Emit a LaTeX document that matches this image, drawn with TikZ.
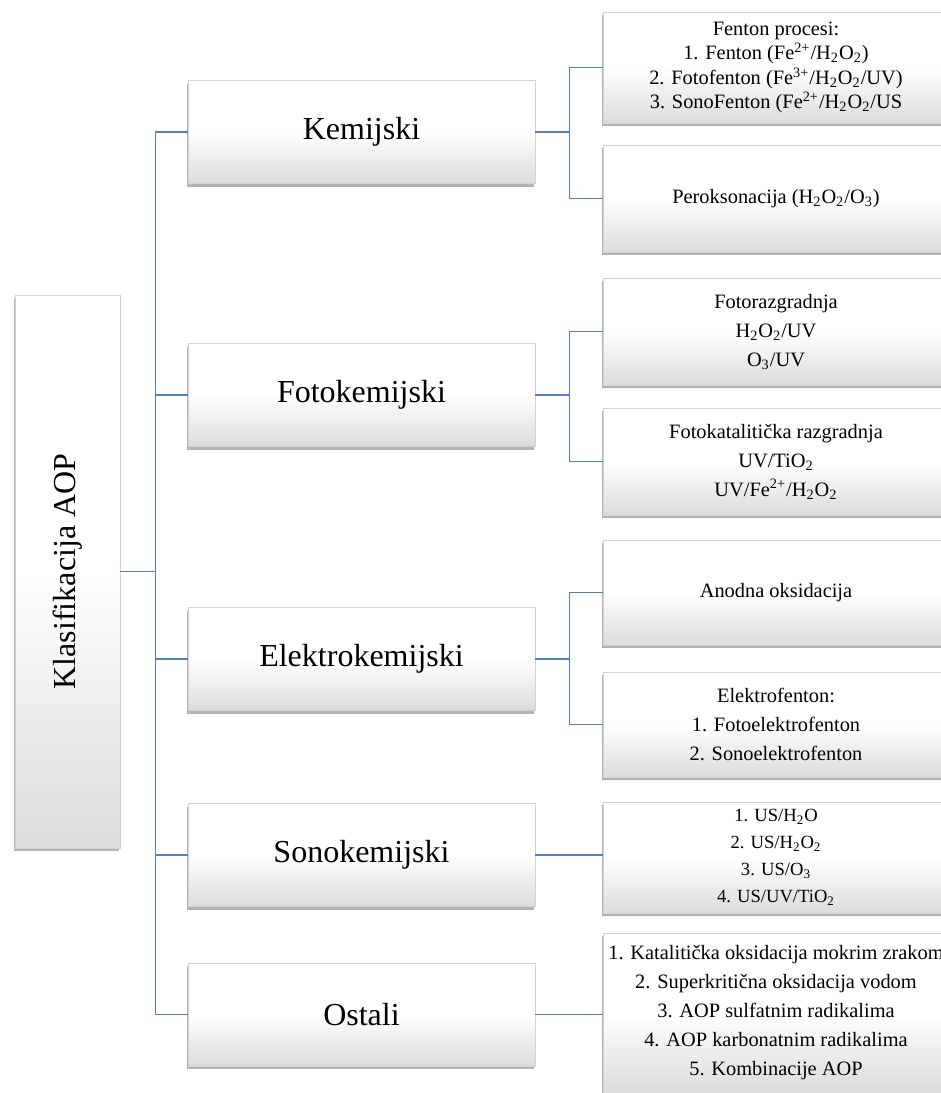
\documentclass[tikz,border=0pt]{standalone}
\usepackage{fontspec}
\setmainfont{Liberation Serif}
\usepackage{graphicx}
\usetikzlibrary{calc, positioning}
\usetikzlibrary{shadows}

\definecolor{linkblue}{RGB}{79,129,189}
\newcommand{\subs}[1]{\textsubscript{#1}}
\newcommand{\sups}[1]{\textsuperscript{#1}}

\tikzset{
  box/.style={rectangle, draw=gray!35, line width=0.3pt,
    top color=white, bottom color=black!14, middle color=white,
    drop shadow={shadow xshift=-0.5pt, shadow yshift=-1.5pt, opacity=0.6},
    inner sep=2pt, align=center},
  rootbox/.style={box, minimum width=52.5pt, minimum height=276.5pt},
  mainbox/.style={box, minimum width=173.5pt, minimum height=51.5pt,
    font=\fontsize{16}{19}\selectfont},
  subbox/.style={box, minimum width=173pt, font=\fontsize{10.2}{12.3}\selectfont},
  widelines/.style={font=\fontsize{10.2}{14.5}\selectfont},
  link/.style={draw=linkblue, line width=0.7pt},
}

\begin{document}
\begin{tikzpicture}[x=0.5pt, y=-0.5pt]
\clip (0,0) rectangle (941,1093);

\node[rootbox] (root) at (67.5,571.5)
  {\rotatebox{90}{\fontsize{16}{19}\selectfont Klasifikacija AOP}};

\node[mainbox] (kem)  at (361.5,132)    {Kemijski};
\node[mainbox] (foto) at (361.5,395)    {Fotokemijski};
\node[mainbox] (elek) at (361.5,659)    {Elektrokemijski};
\node[mainbox] (sono) at (361.5,855)    {Sonokemijski};
\node[mainbox] (ost)  at (361.5,1014.5) {Ostali};

\node[subbox, minimum height=55.5pt] (fent) at (776,67.5)
  {Fenton procesi:\\
   1. Fenton (Fe\sups{2+}/H\subs{2}O\subs{2})\\
   2. Fotofenton (Fe\sups{3+}/H\subs{2}O\subs{2}/UV)\\
   3. SonoFenton (Fe\sups{2+}/H\subs{2}O\subs{2}/US};
\node[subbox, minimum height=53.5pt] (perok) at (776,198.5)
  {Peroksonacija (H\subs{2}O\subs{2}/O\subs{3})};
\node[subbox, widelines, minimum height=53.5pt] (fotoraz) at (776,331.5)
  {Fotorazgradnja\\ H\subs{2}O\subs{2}/UV\\ O\subs{3}/UV};
\node[subbox, widelines, minimum height=53.5pt] (fotokat) at (776,461.5)
  {Fotokatalitička razgradnja\\ UV/TiO\subs{2}\\ UV/Fe\sups{2+}/H\subs{2}O\subs{2}};
\node[subbox, minimum height=52.5pt] (anod) at (776,592.5)
  {Anodna oksidacija};
\node[subbox, widelines, minimum height=52.5pt] (elfent) at (776,724.5)
  {Elektrofenton:\\ 1. Fotoelektrofenton\\ 2. Sonoelektrofenton};
\node[subbox, minimum height=55.5pt, font=\fontsize{9.3}{13.5}\selectfont] (us) at (776,857.5)
  {1. US/H\subs{2}O\\ 2. US/H\subs{2}O\subs{2}\\ 3. US/O\subs{3}\\ 4. US/UV/TiO\subs{2}};
\node[subbox, minimum height=80pt] (ostsub) at (776,1013) {};
\node[align=center, widelines] (osttext) at (ostsub)
  {1. Katalitička oksidacija mokrim zrakom\\
   2. Superkritična oksidacija vodom\\
   3. AOP sulfatnim radikalima\\
   4. AOP karbonatnim radikalima\\
   5. Kombinacije AOP};

\coordinate (trunk) at ($(root.east)+(35,0)$);
\draw[link] (root.east) -- (trunk);
\foreach \n in {kem,foto,elek,sono,ost}
  \draw[link] (trunk) |- (\n.west);

\foreach \a/\b/\c in {kem/fent/perok, foto/fotoraz/fotokat, elek/anod/elfent} {
  \coordinate (\a-fork) at ($(\a.east)+(34,0)$);
  \draw[link] (\a.east) -- (\a-fork);
  \draw[link] (\a-fork) |- (\b.west);
  \draw[link] (\a-fork) |- (\c.west);
}
\draw[link] (sono.east) -- (sono.east -| us.west);
\draw[link] (ost.east) -- (ost.east -| ostsub.west);
\end{tikzpicture}
\end{document}
